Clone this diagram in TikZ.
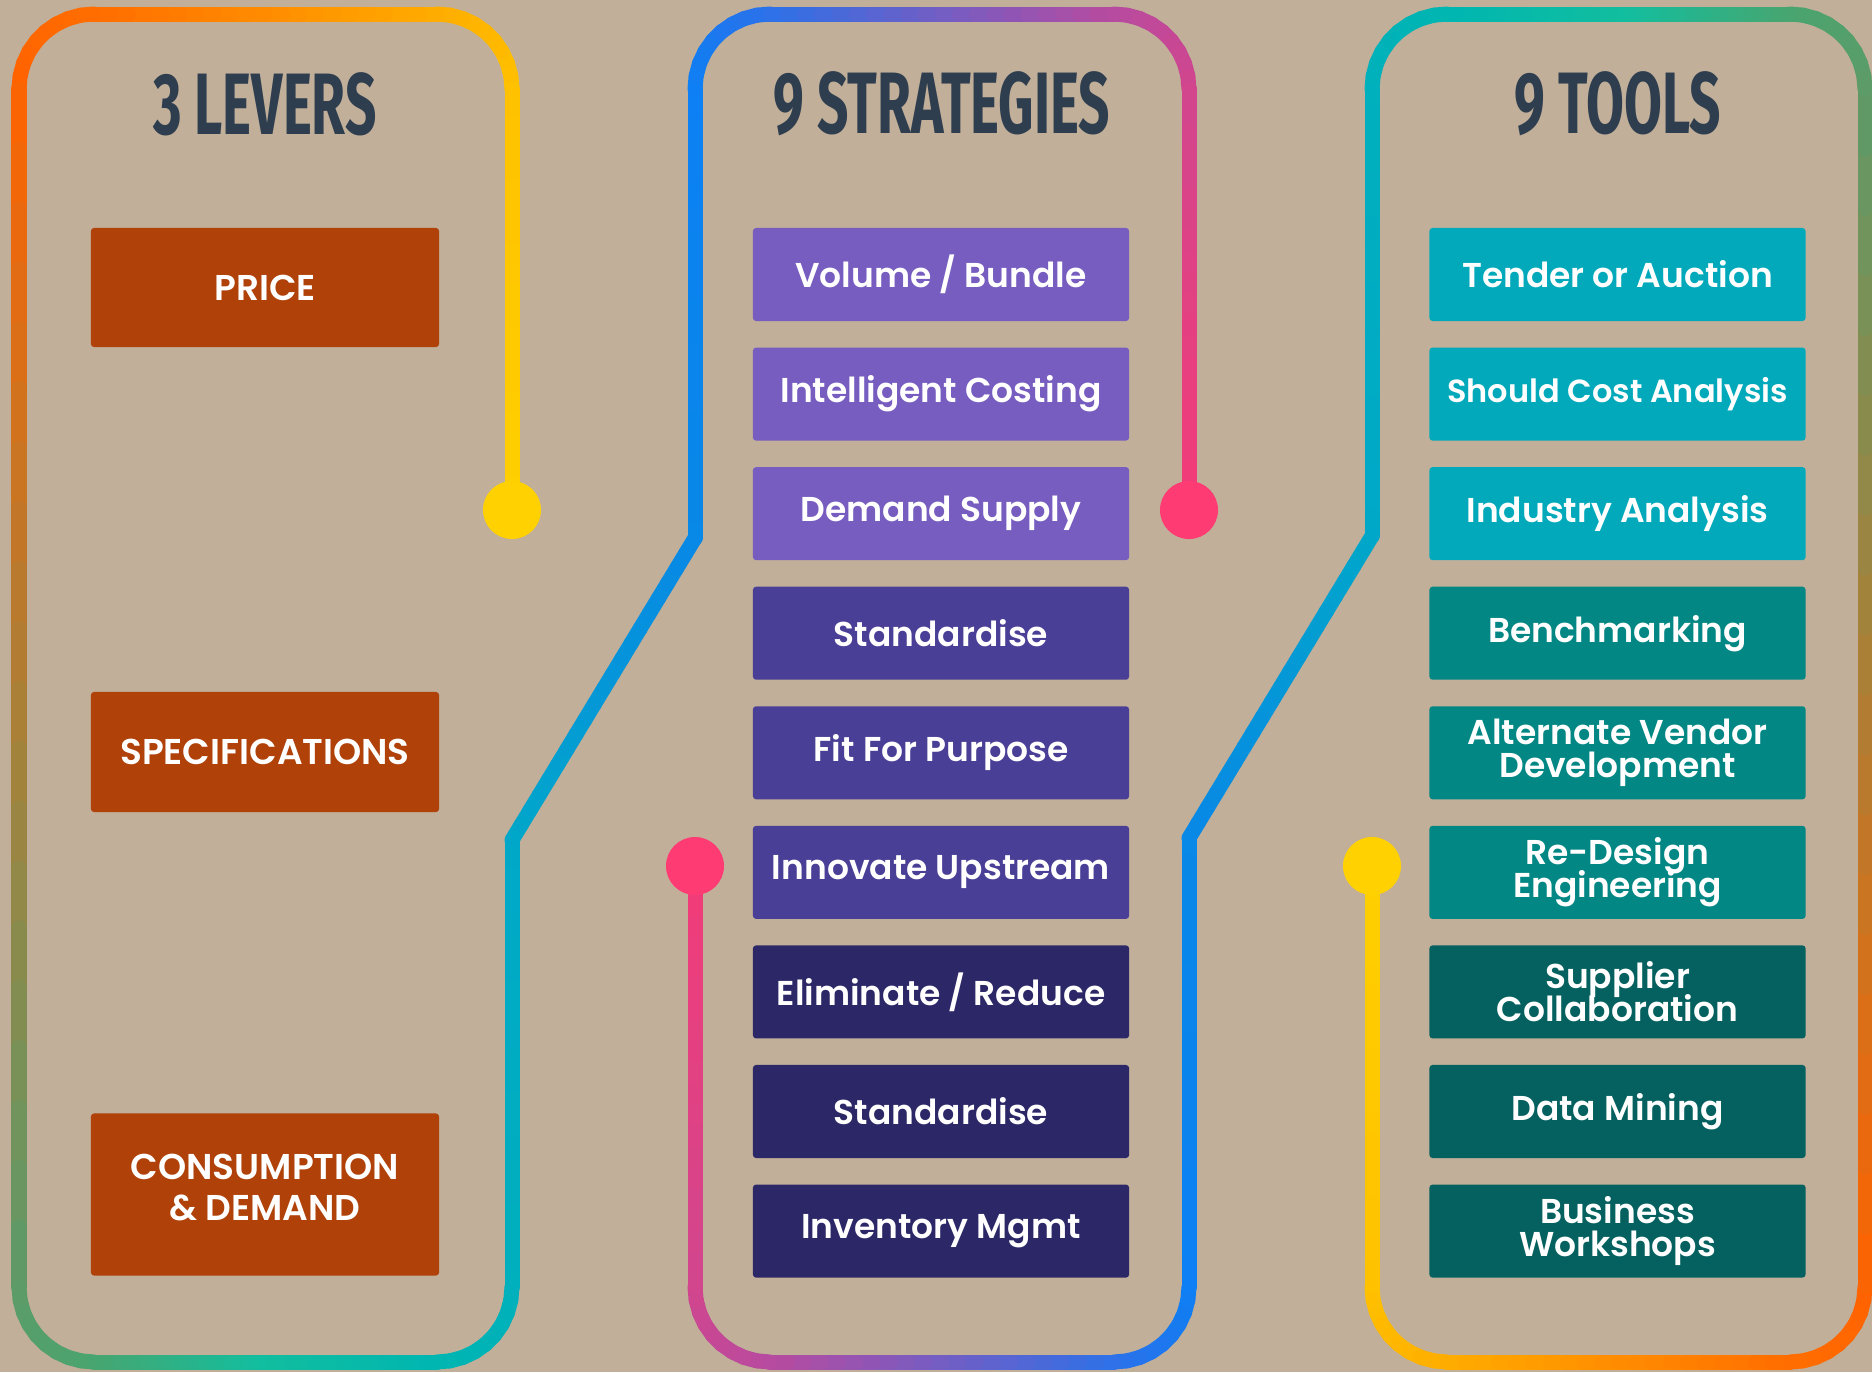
\documentclass[tikz,border=0pt]{standalone}
\usepackage{fontspec}
\setmainfont{Poppins}
\newfontfamily\boxfont{Poppins SemiBold}
\newfontfamily\headfont[FakeStretch=0.63]{Fira Sans}
\usetikzlibrary{positioning}

\definecolor{sand}{HTML}{C1AF99}
\definecolor{slate}{HTML}{2E3E4F}
\definecolor{rust}{HTML}{AF4109}
\definecolor{violetA}{HTML}{775DBF}
\definecolor{violetB}{HTML}{4A3F96}
\definecolor{violetC}{HTML}{2C2868}
\definecolor{aquaA}{HTML}{02A9BB}
\definecolor{aquaB}{HTML}{038784}
\definecolor{aquaC}{HTML}{05615F}
\definecolor{dotyellow}{HTML}{FFD100}
\definecolor{dotpink}{HTML}{FF3B73}
% colours along the ribbon
\definecolor{rbA}{HTML}{FFD000}
\definecolor{rbB}{HTML}{FFC200}
\definecolor{rbC}{HTML}{FFAE00}
\definecolor{rbD}{HTML}{FF6E00}
\definecolor{rbE}{HTML}{FF6200}
\definecolor{rbF}{HTML}{5E9A68}
\definecolor{rbG}{HTML}{4AA46E}
\definecolor{rbGH}{HTML}{12BE9E}
\definecolor{rbH}{HTML}{00B6B0}
\definecolor{rbI}{HTML}{00B0BC}
\definecolor{rbJ}{HTML}{00A8C8}
\definecolor{rbK}{HTML}{0888E6}
\definecolor{rbL}{HTML}{0C80F4}
\definecolor{rbM}{HTML}{2A72EA}
\definecolor{rbN}{HTML}{B64BA0}
\definecolor{rbO}{HTML}{D0468E}
\definecolor{rbP}{HTML}{F23C78}

% box fonts
\newcommand{\planfont}{\boxfont\fontsize{9.8}{9.5}\selectfont\lineskiplimit=-5pt\relax}
\newcommand{\smallplanfont}{\boxfont\fontsize{9.1}{9.5}\selectfont}
\newcommand{\leverfont}{\boxfont\fontsize{10.2}{11.6}\selectfont}

% straight piece of ribbon, blended from #5 to #6
\newcommand{\ribbonline}[6]{%
	\foreach \k in {1,...,20}{%
		\pgfmathsetmacro{\ribta}{(\k-1)/20}%
		\pgfmathsetmacro{\ribtb}{\k/20}%
		\pgfmathtruncatemacro{\ribmix}{5*\k-2}%
		\draw[ribbon,#6!\ribmix!#5] ({#1+(#3-#1)*\ribta},{#2+(#4-#2)*\ribta}) -- ({#1+(#3-#1)*\ribtb},{#2+(#4-#2)*\ribtb});
	}}
% rounded corner of ribbon
\newcommand{\ribbonarc}[6]{%
	\foreach \k in {1,...,9}{%
		\pgfmathsetmacro{\ribaa}{#3+(#4-#3)*(\k-1)/9}%
		\pgfmathsetmacro{\ribab}{#3+(#4-#3)*\k/9}%
		\pgfmathtruncatemacro{\ribmix}{100*(\k-0.5)/9}%
		\draw[ribbon,#6!\ribmix!#5] ({#1+75*cos(\ribaa)},{#2+75*sin(\ribaa)}) -- ({#1+75*cos(\ribab)},{#2+75*sin(\ribab)});
	}}
% whole ribbon, yellow dot to pink dot
\newcommand{\ribbonpath}{%
	\ribbonline{512}{510}{512}{89}{rbA}{rbB}
	\ribbonarc{437}{89}{0}{-90}{rbB}{rbC}
	\ribbonline{437}{14}{94}{14}{rbC}{rbD}
	\ribbonarc{94}{89}{-90}{-180}{rbD}{rbE}
	\ribbonline{19}{89}{19}{1287}{rbE}{rbF}
	\ribbonarc{94}{1287}{180}{90}{rbF}{rbG}
	\ribbonline{94}{1362}{265}{1362}{rbG}{rbGH}
	\ribbonline{265}{1362}{437}{1362}{rbGH}{rbH}
	\ribbonarc{437}{1287}{90}{0}{rbH}{rbI}
	\ribbonline{512}{1287}{512}{840}{rbI}{rbJ}
	\ribbonline{512}{840}{695}{538}{rbJ}{rbK}
	\ribbonline{695}{538}{695}{89}{rbK}{rbL}
	\ribbonarc{770}{89}{180}{270}{rbL}{rbM}
	\ribbonline{770}{14}{1114}{14}{rbM}{rbN}
	\ribbonarc{1114}{89}{270}{360}{rbN}{rbO}
	\ribbonline{1189}{89}{1189}{510}{rbO}{rbP}
	\fill[dotyellow] (512,510) circle[radius=0.29cm];
	\fill[dotpink] (1189,510) circle[radius=0.29cm];
}

\begin{document}
\begin{tikzpicture}[x=0.01cm,y=-0.01cm,
ribbon/.style={line width=0.15cm,line cap=round},
heading/.style={text=slate,font=\headfont\bfseries\fontsize{24.8}{26}\selectfont},
lever/.style={fill=rust,text=white,minimum width=3.48cm,rounded corners=0.9pt,
	inner sep=0pt,outer sep=0pt,align=center,font=\leverfont},
plan/.style={fill=#1,text=white,minimum width=3.76cm,minimum height=0.93cm,
	rounded corners=0.9pt,inner sep=0pt,outer sep=0pt,align=center,font=\planfont},
node distance=0.265cm]

\fill[sand] (0,0) rectangle (1872,1372);
\useasboundingbox (0,0) rectangle (1872,1372);

% Ribbons
\ribbonpath
\begin{scope}[rotate around={180:(942,688)}]
	\ribbonpath
\end{scope}

% Headings
\node[heading] (levers) at (265,104) {3 LEVERS};
\node[heading] (strategies) at (942,104) {9 STRATEGIES};
\node[heading] (tools) at (1618,104) {9 TOOLS};

% Levers
\node[lever,minimum height=1.19cm] (price) at (265,287.5) {PRICE};
\node[lever,minimum height=1.20cm] (spec) at (265,752) {SPECIFICATIONS};
\node[lever,minimum height=1.62cm] (demand) at (265,1194.5) {CONSUMPTION\\\& DEMAND\rule[-4pt]{0pt}{4pt}};

% Strategies
\node[plan=violetA] (volume) at (941,274.5) {Volume / Bundle};
\node[plan=violetA,below=of volume] (costing) {Intelligent Costing};
\node[plan=violetA,below=of costing] (supply) {Demand Supply};
\node[plan=violetB,below=of supply] (standard) {Standardise};
\node[plan=violetB,below=of standard] (purpose) {Fit For Purpose};
\node[plan=violetB,below=of purpose] (upstream) {Innovate Upstream};
\node[plan=violetC,below=of upstream] (reduce) {Eliminate / Reduce};
\node[plan=violetC,below=of reduce] (standardtwo) {Standardise};
\node[plan=violetC,below=of standardtwo] (inventory) {Inventory Mgmt};

% Tools
\node[plan=aquaA] (tender) at (1617.5,274.5) {Tender or Auction};
\node[plan=aquaA,below=of tender,font=\smallplanfont] (shouldcost) {Should Cost Analysis};
\node[plan=aquaA,below=of shouldcost] (industry) {Industry Analysis};
\node[plan=aquaB,below=of industry] (bench) {Benchmarking};
\node[plan=aquaB,below=of bench] (vendor) {Alternate Vendor\\Development};
\node[plan=aquaB,below=of vendor] (redesign) {Re-Design\\Engineering};
\node[plan=aquaC,below=of redesign] (supplier) {Supplier\\Collaboration};
\node[plan=aquaC,below=of supplier] (mining) {Data Mining};
\node[plan=aquaC,below=of mining] (workshops) {Business\\Workshops};

\end{tikzpicture}
\end{document}
